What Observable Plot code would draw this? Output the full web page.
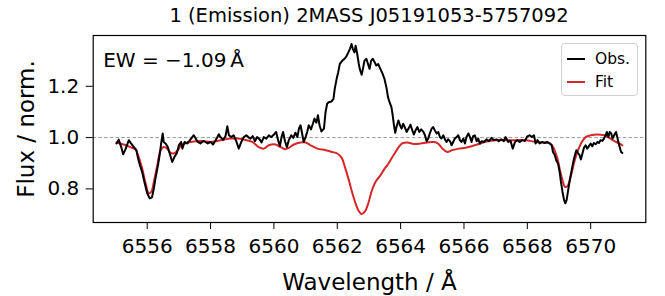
<!DOCTYPE html>
<html>
<head>
<meta charset="utf-8">
<script src="https://cdn.jsdelivr.net/npm/d3@7"></script>
<script src="https://cdn.jsdelivr.net/npm/@observablehq/plot@0.6"></script>
<style>
  html, body { margin: 0; padding: 0; background: #fff; }
  body { width: 665px; height: 296px; overflow: hidden; font-family: "DejaVu Sans", sans-serif; }
  #wrap { position: relative; width: 665px; height: 296px; }
  #title { position: absolute; left: 93px; width: 552px; top: 0; height: 30px; line-height: 32px; text-align: center; font-size: 19.5px; color: #000; }
  #chart { position: absolute; left: 0; top: 30px; }
  #chart svg { overflow: visible; }
  #legend { position: absolute; left: 561px; top: 43px; width: 77px; height: 53px; border: 1px solid #d0d0d0; border-radius: 4px; background: rgba(255,255,255,0.85); box-sizing: border-box; font-size: 15.5px; }
  .lg { position: absolute; left: 0; height: 20px; width: 77px; }
  .lg .sw { position: absolute; left: 5px; top: 9px; width: 18px; height: 0; border-top: 2px solid; }
  .lg .tx { position: absolute; left: 33px; top: 0; line-height: 20px; }
</style>
</head>
<body>
<div id="wrap">
  <div id="title">1 (Emission) 2MASS J05191053-5757092</div>
  <div id="chart"></div>
  <div id="legend">
    <div class="lg" style="top:5px"><div class="sw" style="border-color:#000"></div><div class="tx">Obs.</div></div>
    <div class="lg" style="top:28px"><div class="sw" style="border-color:#d62728"></div><div class="tx">Fit</div></div>
  </div>
</div>
<script>
const obsWave = [6555.03,6555.10,6555.18,6555.24,6555.31,6555.42,6555.49,6555.58,6555.66,6555.70,6555.77,6555.84,6555.91,6556.00,6556.08,6556.15,6556.21,6556.27,6556.34,6556.40,6556.44,6556.49,6556.52,6556.58,6556.65,6556.71,6556.79,6556.86,6556.93,6557.00,6557.07,6557.11,6557.18,6557.26,6557.35,6557.42,6557.47,6557.53,6557.60,6557.68,6557.77,6557.84,6557.91,6558.00,6558.08,6558.19,6558.26,6558.31,6558.40,6558.47,6558.53,6558.58,6558.65,6558.73,6558.82,6558.89,6558.97,6559.05,6559.13,6559.19,6559.26,6559.33,6559.40,6559.47,6559.55,6559.61,6559.68,6559.76,6559.84,6559.92,6560.00,6560.07,6560.14,6560.19,6560.24,6560.29,6560.35,6560.41,6560.47,6560.55,6560.61,6560.68,6560.74,6560.79,6560.84,6560.89,6560.94,6561.00,6561.05,6561.10,6561.17,6561.23,6561.28,6561.34,6561.39,6561.44,6561.50,6561.58,6561.63,6561.68,6561.73,6561.82,6561.88,6561.92,6561.98,6562.03,6562.08,6562.16,6562.23,6562.29,6562.35,6562.40,6562.45,6562.49,6562.54,6562.58,6562.63,6562.68,6562.71,6562.77,6562.81,6562.86,6562.92,6562.97,6563.02,6563.07,6563.12,6563.18,6563.23,6563.29,6563.36,6563.42,6563.49,6563.56,6563.60,6563.65,6563.71,6563.75,6563.79,6563.83,6563.87,6563.93,6563.98,6564.03,6564.08,6564.13,6564.19,6564.25,6564.31,6564.37,6564.42,6564.47,6564.53,6564.59,6564.65,6564.72,6564.77,6564.82,6564.87,6564.92,6564.98,6565.03,6565.08,6565.14,6565.19,6565.24,6565.29,6565.35,6565.40,6565.45,6565.50,6565.56,6565.61,6565.66,6565.71,6565.77,6565.82,6565.87,6565.92,6565.98,6566.03,6566.08,6566.14,6566.19,6566.24,6566.29,6566.34,6566.40,6566.45,6566.50,6566.56,6566.63,6566.71,6566.79,6566.87,6566.94,6567.03,6567.10,6567.18,6567.26,6567.31,6567.40,6567.47,6567.54,6567.61,6567.68,6567.76,6567.84,6567.92,6568.00,6568.07,6568.14,6568.21,6568.26,6568.32,6568.39,6568.47,6568.55,6568.63,6568.70,6568.77,6568.81,6568.87,6568.91,6568.97,6569.02,6569.06,6569.11,6569.16,6569.20,6569.24,6569.29,6569.34,6569.40,6569.45,6569.50,6569.55,6569.60,6569.65,6569.69,6569.74,6569.79,6569.84,6569.89,6569.94,6570.00,6570.05,6570.10,6570.16,6570.21,6570.26,6570.31,6570.37,6570.42,6570.47,6570.51,6570.56,6570.60,6570.65,6570.69,6570.74,6570.80,6570.85,6570.90,6570.96,6571.00];
const obsFlux = [0.977,0.992,0.963,0.935,0.953,0.990,0.977,0.963,0.951,0.925,0.892,0.866,0.828,0.783,0.763,0.767,0.802,0.847,0.892,0.938,0.977,1.016,0.983,0.977,0.963,0.938,0.905,0.925,0.938,0.970,0.983,0.957,0.983,0.977,0.990,1.002,1.009,0.996,0.983,0.977,0.987,0.983,0.977,0.983,0.973,0.996,1.013,1.002,0.992,1.005,1.044,1.009,1.002,1.009,0.983,0.957,0.983,1.002,1.009,1.002,0.996,1.006,0.986,1.002,0.993,0.981,1.002,0.996,1.009,1.002,1.012,1.022,0.986,0.967,1.002,1.022,0.986,0.963,0.990,1.009,0.999,1.019,1.002,1.035,1.048,1.016,0.983,1.002,1.022,1.048,1.032,1.054,1.074,1.058,1.087,1.048,1.024,1.035,1.099,1.132,1.138,1.141,1.151,1.190,1.229,1.255,1.287,1.300,1.307,1.317,1.332,1.346,1.365,1.346,1.332,1.358,1.326,1.287,1.268,1.245,1.268,1.300,1.307,1.287,1.268,1.300,1.307,1.294,1.281,1.287,1.268,1.252,1.229,1.190,1.158,1.138,1.119,1.087,1.048,1.019,1.041,1.067,1.048,1.035,1.054,1.041,1.022,1.035,1.050,1.028,1.012,1.028,1.041,1.022,1.032,1.022,1.009,0.986,0.996,1.016,1.035,1.041,1.028,1.016,1.022,1.002,0.996,1.009,0.993,0.983,0.993,0.986,0.970,0.983,0.996,1.002,1.009,0.990,0.983,0.996,0.977,1.002,1.016,1.002,0.983,1.006,1.009,0.986,0.996,0.977,0.986,0.983,0.993,0.986,0.999,0.990,0.993,0.986,0.993,0.986,1.002,0.983,0.987,0.957,0.983,0.990,0.983,0.990,0.987,1.005,1.009,1.002,1.009,0.977,0.990,0.977,0.983,0.979,0.983,0.977,0.970,0.944,0.931,0.912,0.899,0.866,0.828,0.789,0.756,0.744,0.756,0.795,0.834,0.873,0.905,0.931,0.951,0.940,0.931,0.915,0.938,0.961,0.970,0.957,0.966,0.977,0.966,0.979,0.974,0.983,0.979,0.990,0.987,0.996,1.009,1.022,1.002,1.022,1.016,0.996,1.009,1.022,0.996,0.970,0.944,0.940];

const fitWave = [6555.03,6555.26,6555.47,6555.63,6555.73,6555.84,6555.95,6556.05,6556.13,6556.21,6556.32,6556.42,6556.52,6556.63,6556.74,6556.84,6556.95,6557.05,6557.18,6557.37,6557.58,6557.79,6558.00,6558.21,6558.42,6558.63,6558.84,6559.05,6559.32,6559.52,6559.68,6559.84,6560.05,6560.21,6560.35,6560.47,6560.63,6560.84,6561.00,6561.16,6561.37,6561.63,6561.84,6562.00,6562.14,6562.24,6562.35,6562.45,6562.56,6562.66,6562.77,6562.87,6562.98,6563.08,6563.21,6563.37,6563.50,6563.58,6563.68,6563.81,6563.94,6564.05,6564.21,6564.42,6564.63,6564.84,6565.05,6565.18,6565.32,6565.47,6565.63,6565.84,6566.05,6566.26,6566.52,6566.74,6567.00,6567.26,6567.63,6567.95,6568.26,6568.52,6568.73,6568.84,6568.95,6569.03,6569.11,6569.19,6569.27,6569.37,6569.47,6569.58,6569.72,6569.84,6570.00,6570.21,6570.42,6570.58,6570.74,6570.90,6571.00];
const fitFlux = [0.981,0.973,0.963,0.953,0.925,0.880,0.821,0.783,0.789,0.828,0.892,0.951,0.963,0.957,0.940,0.938,0.948,0.966,0.977,0.983,0.986,0.986,0.983,0.987,0.992,0.996,0.996,0.992,0.983,0.963,0.957,0.970,0.973,0.963,0.955,0.960,0.973,0.981,0.981,0.970,0.957,0.951,0.944,0.938,0.921,0.886,0.841,0.795,0.750,0.718,0.702,0.711,0.744,0.789,0.828,0.854,0.880,0.892,0.912,0.938,0.963,0.977,0.981,0.975,0.977,0.981,0.983,0.977,0.957,0.944,0.951,0.957,0.960,0.967,0.977,0.986,0.990,0.990,0.990,0.990,0.983,0.981,0.977,0.957,0.918,0.873,0.834,0.808,0.811,0.847,0.899,0.944,0.983,1.002,1.009,1.012,1.009,1.000,0.987,0.977,0.970];

const xTicks = [6556, 6558, 6560, 6562, 6564, 6566, 6568, 6570];
const yTicks = [0.8, 1.0, 1.2];
const ewText = "EW = \u22121.09\u2009Å";
const xLabel = "Wavelength / Å";
const yLabel = "Flux / norm.";

const obs = obsWave.map((w, i) => ({w, f: obsFlux[i]}));
const fit = fitWave.map((w, i) => ({w, f: fitFlux[i]}));

const chart = Plot.plot({
  width: 665,
  height: 266,
  marginTop: 5,
  marginBottom: 74,
  marginLeft: 92.7,
  marginRight: 19.7,
  style: {fontFamily: "DejaVu Sans", fontSize: "20px", color: "#000", background: "transparent", overflow: "visible"},
  x: {domain: [6554.295, 6571.74]},
  y: {domain: [0.669, 1.398]},
  marks: [
    Plot.ruleY([1.0], {stroke: "#999", strokeWidth: 1, strokeDasharray: "3.5,2.2"}),
    Plot.line(fit, {x: "w", y: "f", stroke: "#d62728", strokeWidth: 2, curve: "catmull-rom"}),
    Plot.line(obs, {x: "w", y: "f", stroke: "#000", strokeWidth: 2}),
    Plot.frame({stroke: "#000", strokeWidth: 1.2}),
    Plot.axisX({ticks: xTicks, tickFormat: d => String(d), tickSize: 7, tickPadding: 9, fontSize: 20, label: null, stroke: "#000"}),
    Plot.axisY({ticks: yTicks, tickFormat: d => d.toFixed(1), tickSize: 7, tickPadding: 7, fontSize: 20, label: null, stroke: "#000"}),
    Plot.text([xLabel], {frameAnchor: "bottom", dy: 67, fontSize: 23, fill: "#000", text: d => d}),
    Plot.text([yLabel], {frameAnchor: "left", dx: -67, rotate: -90, textAnchor: "middle", fontSize: 23, fill: "#000", text: d => d}),
    Plot.text([ewText], {frameAnchor: "top-left", dx: 10, dy: 17, textAnchor: "start", fontSize: 20, fill: "#000", text: d => d})
  ]
});
document.getElementById("chart").appendChild(chart);
</script>
</body>
</html>
